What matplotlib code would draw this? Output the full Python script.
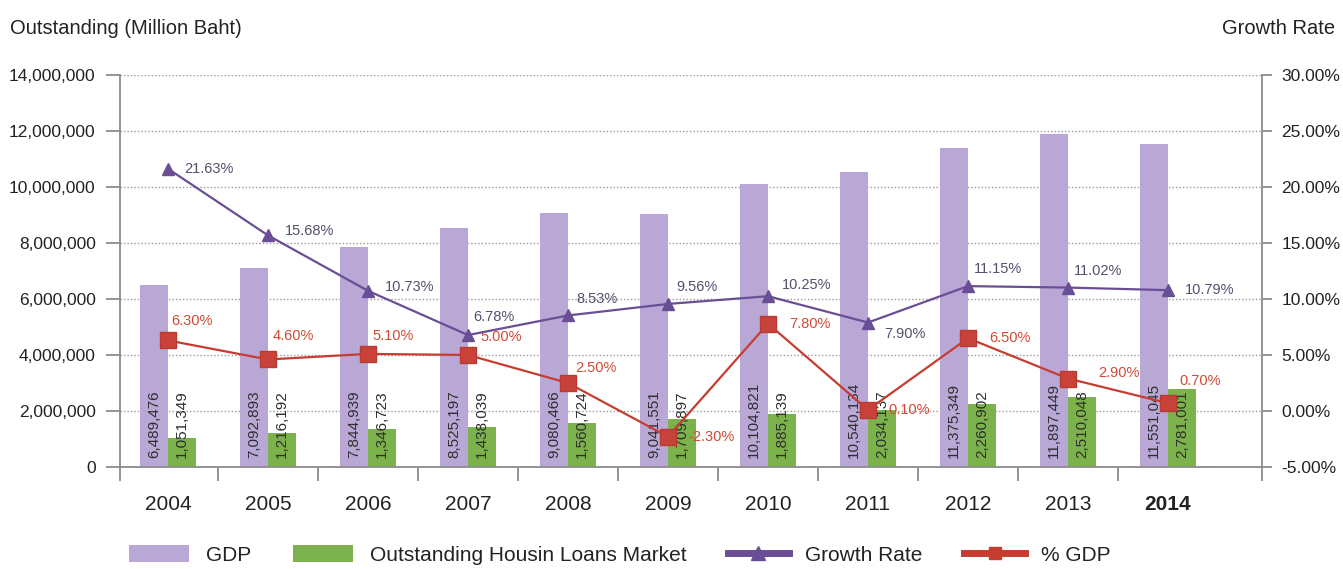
#!/usr/bin/env python3
"""
GDP vs outstanding housing loans (million baht), 2004-2014, with the loan
growth rate and the loans' share of GDP on a secondary percentage axis.
"""
import numpy as np
import matplotlib

matplotlib.use("Agg")
import matplotlib.pyplot as plt  # noqa: E402
from matplotlib.lines import Line2D  # noqa: E402
from matplotlib.patches import Patch  # noqa: E402

plt.rcParams["font.family"] = ["Liberation Sans", "DejaVu Sans"]

YEARS = ["2004", "2005", "2006", "2007", "2008", "2009",
         "2010", "2011", "2012", "2013", "2014"]
GDP = [6489476, 7092893, 7844939, 8525197, 9080466, 9041551,
       10104821, 10540134, 11375349, 11897449, 11551045]
LOANS = [1051349, 1216192, 1346723, 1438039, 1560724, 1709897,
         1885139, 2034137, 2260902, 2510048, 2781001]
GROWTH = [21.63, 15.68, 10.73, 6.78, 8.53, 9.56,
          10.25, 7.90, 11.15, 11.02, 10.79]
PCT_GDP = [6.30, 4.60, 5.10, 5.00, 2.50, -2.30,
           7.80, 0.10, 6.50, 2.90, 0.70]

C_GDP = "#b9a8d6"
C_LOAN = "#7cb24b"
C_GROWTH = "#6a4e95"
C_PCT = "#c63d30"
C_AXIS = "#8c8c8c"

# annotation offsets in points, chosen so labels stay clear of the lines
GROWTH_OFFSETS = [(12, 0), (12, 3), (12, 3), (4, 13), (6, 12), (6, 12),
                  (10, 8), (12, -8), (4, 12), (4, 12), (12, 0)]
PCT_OFFSETS = [(2, 14), (3, 17), (3, 13), (9, 13), (5, 11), (15, 0),
               (15, 0), (15, 0), (15, 0), (22, 4), (8, 16)]

fig = plt.figure(figsize=(13.43, 5.69), dpi=100)
ax = fig.add_axes([120 / 1343, 102 / 569, 1142 / 1343, 392 / 569])

x = np.arange(len(YEARS))
w = 0.28
ax.bar(x - w / 2, GDP, w, color=C_GDP, zorder=2)
ax.bar(x + w / 2, LOANS, w, color=C_LOAN, zorder=2)

for xi, g, l in zip(x, GDP, LOANS):
    ax.text(xi - w / 2, 330000, f"{g:,}", rotation=90, ha="center",
            va="bottom", fontsize=11, color="#2e2e2e", zorder=3)
    ax.text(xi + w / 2, 330000, f"{l:,}", rotation=90, ha="center",
            va="bottom", fontsize=11, color="#2e2e2e", zorder=3)

ax.set_xlim(-0.48, 10.94)
ax.set_ylim(0, 14000000)
ax.set_yticks(np.arange(0, 14000001, 2000000))
ax.set_yticklabels([f"{v:,}" for v in range(0, 14000001, 2000000)],
                   fontsize=12.5, color="#222222")
ax.yaxis.grid(True, ls=(0, (1, 1.5)), lw=1.0, color="#9a9a9a")
ax.set_axisbelow(True)

# category separators as major ticks, year names on minor ticks
ax.set_xticks(list(np.arange(-0.5, 10, 1.0)[1:]) + [-0.48, 10.94])
ax.set_xticklabels([])
ax.set_xticks(x, minor=True)
ax.set_xticklabels(YEARS, minor=True, fontsize=15, color="#222222")
ax.tick_params(axis="x", which="major", length=10, width=1.3, color=C_AXIS)
ax.tick_params(axis="x", which="minor", length=0, pad=20)
ax.get_xticklabels(minor=True)[-1].set_fontweight("bold")
ax.tick_params(axis="y", length=10, width=1.3, color=C_AXIS, pad=7.5)

for side in ("left", "right", "bottom"):
    ax.spines[side].set_color(C_AXIS)
    ax.spines[side].set_linewidth(1.3)
ax.spines["top"].set_visible(False)

ax2 = ax.twinx()
ax2.set_ylim(-5, 30)
ax2.set_yticks(np.arange(-5, 31, 5))
ax2.set_yticklabels([f"{v:.2f}%" for v in np.arange(-5, 31, 5)],
                    fontsize=12.5, color="#222222")
ax2.tick_params(axis="y", length=7, width=1.3, color=C_AXIS, pad=7)
for side in ("left", "right", "bottom", "top"):
    ax2.spines[side].set_visible(False)

ax2.plot(x, GROWTH, color=C_GROWTH, lw=1.6, marker="^", ms=9,
         markerfacecolor=C_GROWTH, markeredgecolor=C_GROWTH, zorder=4)
ax2.plot(x, PCT_GDP, color=C_PCT, lw=1.6, marker="s", ms=11,
         markerfacecolor="#c9423a", markeredgecolor="#b83a30", zorder=5)

for xi, v, off in zip(x, GROWTH, GROWTH_OFFSETS):
    ax2.annotate(f"{v:.2f}%", (xi, v), xytext=off,
                 textcoords="offset points", ha="left", va="center",
                 fontsize=10.5, color="#574e6e")
for xi, v, off in zip(x, PCT_GDP, PCT_OFFSETS):
    ax2.annotate(f"{v:.2f}%", (xi, v), xytext=off,
                 textcoords="offset points", ha="left", va="center",
                 fontsize=10.5, color="#d04a34")

fig.text(10 / 1343, 1 - 28 / 569, "Outstanding (Million Baht)",
         ha="left", va="center", fontsize=14.5, color="#222222")
fig.text(1335 / 1343, 1 - 28 / 569, "Growth Rate",
         ha="right", va="center", fontsize=14.5, color="#222222")

handles = [
    Patch(facecolor=C_GDP, label="GDP"),
    Patch(facecolor=C_LOAN, label="Outstanding Housin Loans Market"),
    Line2D([], [], color=C_GROWTH, lw=5, marker="^", ms=10,
           label="Growth Rate"),
    Line2D([], [], color=C_PCT, lw=5, marker="s", ms=9, label="% GDP"),
]
fig.legend(handles=handles, loc="center", bbox_to_anchor=(620 / 1343, 14 / 569),
           ncol=4, frameon=False, fontsize=15, handlelength=2.9,
           handleheight=0.9, handletextpad=0.8, columnspacing=2.0,
           labelcolor="#222222")

fig.savefig("out.png", dpi=100)
plt.close(fig)
